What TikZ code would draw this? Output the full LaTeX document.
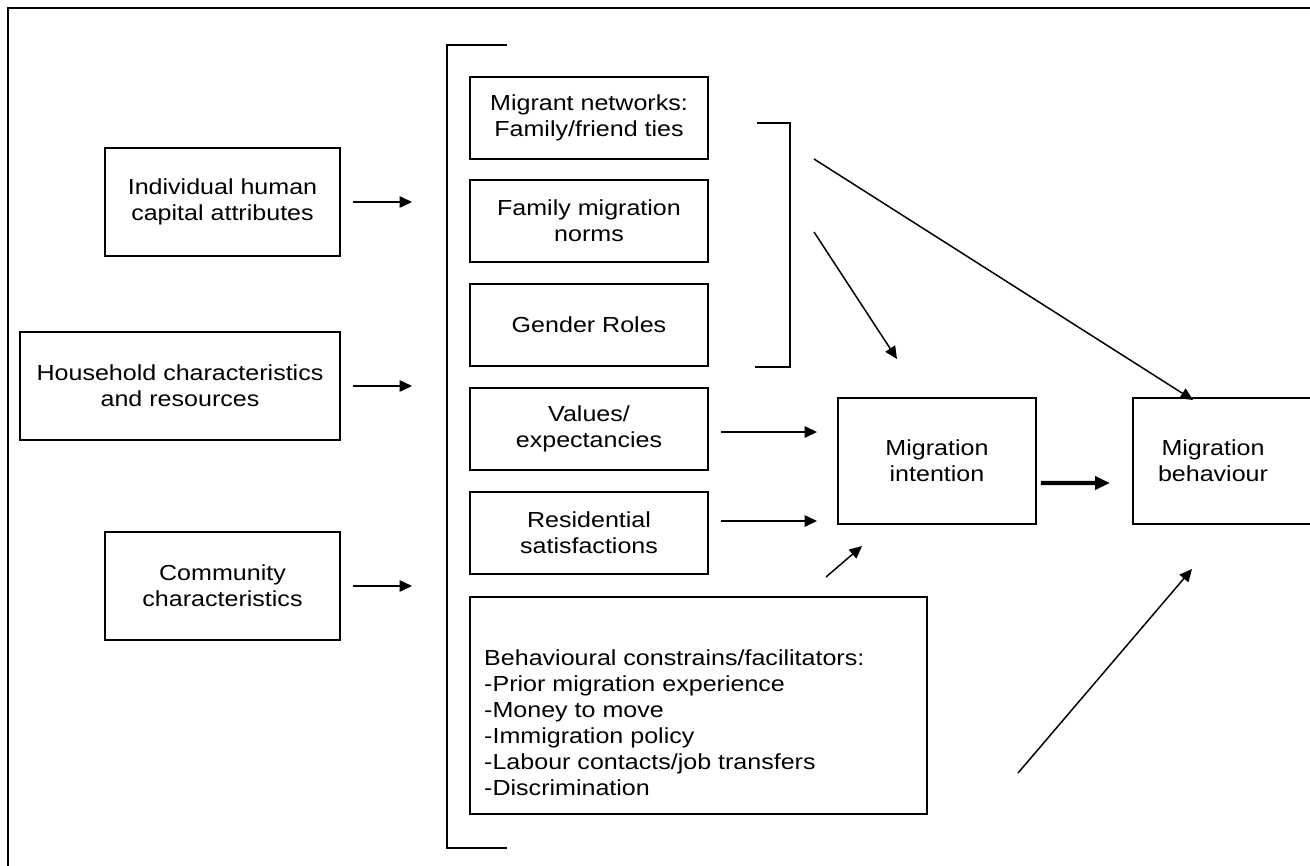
\documentclass[tikz,border=0pt]{standalone}
\usepackage{fontspec}
\setmainfont{Liberation Sans}[FakeStretch=1.15]
\usetikzlibrary{arrows.meta}

\begin{document}
\begin{tikzpicture}[x=0.02cm,y=-0.02cm,
    box/.style={draw,line width=1.1pt,align=center,inner sep=0pt,font=\fontsize{12.4}{14.8}\selectfont},
    txt/.style={align=center,font=\fontsize{12.4}{14.8}\selectfont},
    arr/.style={line width=0.85pt,-{Triangle[length=0.25cm,width=0.23cm]}},
    bold arr/.style={line width=2.3pt,-{Triangle[length=0.3cm,width=0.26cm]}}]
    \clip (0,0) rectangle (1310,865);
    \draw[line width=1.4pt] (8,900) -- (8,8) -- (1340,8);

    % left column
    \node[box,minimum width=4.7cm,minimum height=2.16cm] (indiv) at (222.5,202) {Individual human\\capital attributes};
    \node[box,minimum width=6.4cm,minimum height=2.16cm] (house) at (180,386) {Household characteristics\\and resources};
    \node[box,minimum width=4.7cm,minimum height=2.16cm] (comm) at (222.5,586) {Community\\characteristics};

    % brackets
    \draw[line width=1.1pt] (507,45) -- (447,45) -- (447,848) -- (507,848);
    \coordinate (brkL) at (447,45);
    \draw[line width=1.1pt] (757,123) -- (790,123) -- (790,367) -- (755,367);

    % middle column
    \node[box,minimum width=4.76cm,minimum height=1.64cm] (net) at (589,118) {Migrant networks:\\Family/friend ties};
    \node[box,minimum width=4.76cm,minimum height=1.64cm] (norms) at (589,221) {Family migration\\norms};
    \node[box,minimum width=4.76cm,minimum height=1.64cm] (gender) at (589,325) {Gender Roles};
    \node[box,minimum width=4.76cm,minimum height=1.64cm] (values) at (589,429) {Values/\\expectancies};
    \node[box,minimum width=4.76cm,minimum height=1.64cm] (resid) at (589,533) {Residential\\satisfactions};
    \node[box,minimum width=9.14cm,minimum height=4.34cm] (constr) at (698.5,705.5) {};
    \node[txt,align=left,anchor=west] (constrtxt) at (478,723) {Behavioural constrains/facilitators:\\-Prior migration experience\\-Money to move\\-Immigration policy\\-Labour contacts/job transfers\\-Discrimination};

    % right column
    \node[box,minimum width=3.96cm,minimum height=2.52cm] (intent) at (937,461) {Migration\\intention};
    \node[txt] (behav) at (1213,461) {Migration\\behaviour};
    \draw[line width=1.1pt] (1133,398) rectangle (1340,524);
    \coordinate (behW) at (1133,483);

    % arrows
    \foreach \n in {indiv,house,comm}
        \draw[arr,shorten <=0.24cm,shorten >=0.7cm] (\n.east) -- (\n.east -| brkL);
    \draw[arr,shorten <=0.24cm,shorten >=0.4cm] ([yshift=-0.06cm]values.east) -- ([yshift=-0.06cm]values.east -| intent.west);
    \draw[arr,shorten <=0.24cm,shorten >=0.4cm] ([yshift=0.24cm]resid.east) -- ([yshift=0.24cm]resid.east -| intent.west);
    \coordinate (brkR1) at (814,159);
    \coordinate (brkR2) at (814,232);
    \coordinate (intN) at (897,359);
    \coordinate (behN) at (1193,400);
    \coordinate (conNE) at (826,577);
    \coordinate (intSW) at (862,546);
    \coordinate (conE) at (1018,773);
    \coordinate (behS) at (1192,569);
    \draw[arr] (brkR1) -- (behN);
    \draw[arr] (brkR2) -- (intN);
    \draw[arr] (conNE) -- (intSW);
    \draw[arr] (conE) -- (behS);
    \draw[bold arr,shorten <=0.08cm,shorten >=0.46cm] ([yshift=-0.44cm]intent.east) -- (behW);
\end{tikzpicture}
\end{document}
